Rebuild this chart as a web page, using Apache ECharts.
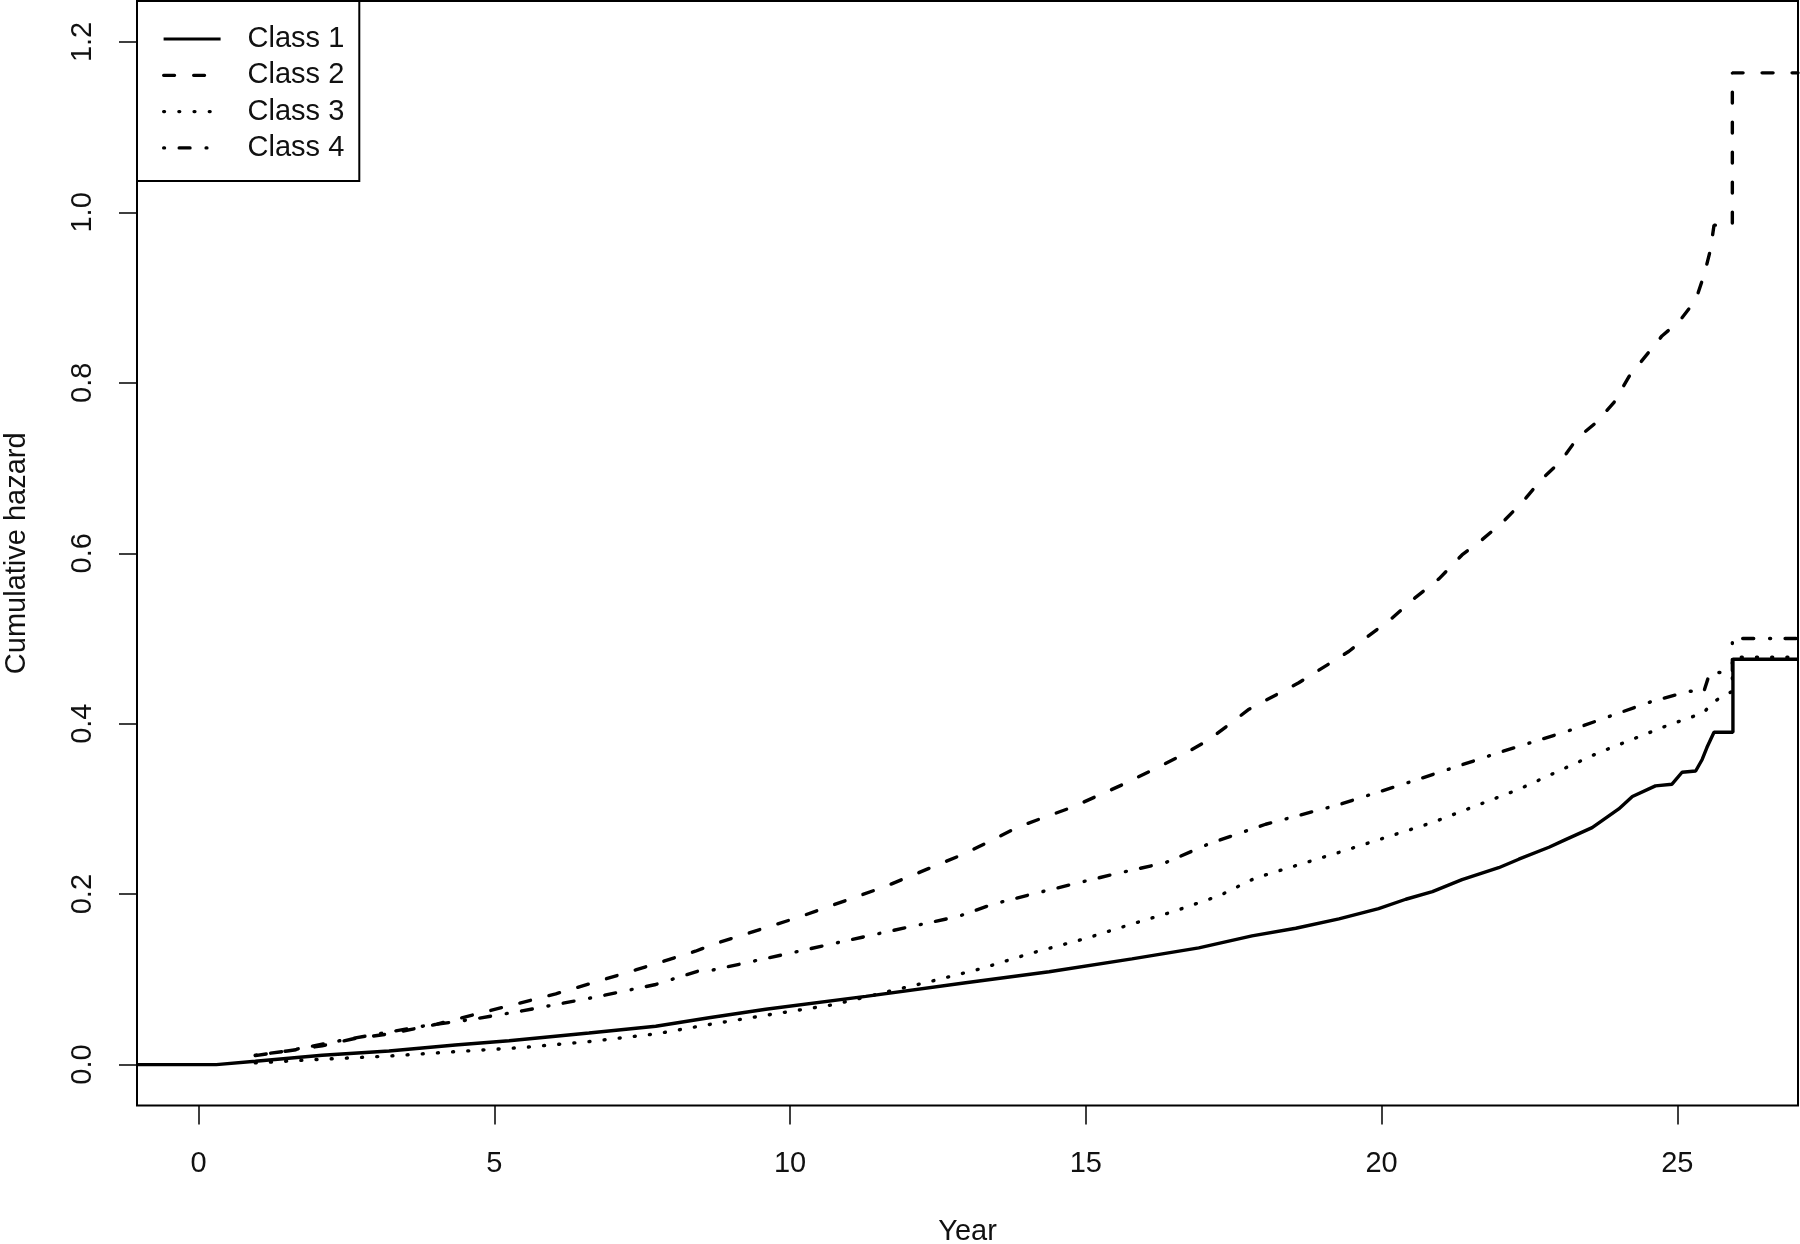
<!DOCTYPE html>
<html>
<head>
<meta charset="utf-8">
<script src="https://cdn.jsdelivr.net/npm/echarts@6/dist/echarts.min.js"></script>
<style>
html,body{margin:0;padding:0;background:#fff;}
#chart{width:1800px;height:1244px;}
</style>
</head>
<body>
<div id="chart"></div>
<script>
// ---- data ----
const seriesNames = ['Class 1', 'Class 2', 'Class 3', 'Class 4'];
const xTicks = [0, 5, 10, 15, 20, 25];
const yTicks = [0, 0.2, 0.4, 0.6, 0.8, 1.0, 1.2];
const xRange = [-1.04, 27.04];
const yRange = [-0.048, 1.248];

const class1Years = [-1.04, 0.3, 0.96, 2.09, 3.22, 4.34, 5.25, 6.6, 7.73, 8.63, 9.59, 11.28, 12.97, 14.38, 15.78, 16.91, 17.81, 18.55, 19.28, 19.95, 20.41, 20.86, 21.36, 21.98, 22.32, 22.83, 23.11, 23.56, 24.01, 24.24, 24.63, 24.91, 25.08, 25.31, 25.42, 25.5, 25.62, 25.94, 25.94, 27.04];
const class1Hazard = [0, 0, 0.004, 0.011, 0.016, 0.023, 0.028, 0.037, 0.045, 0.055, 0.065, 0.080, 0.096, 0.109, 0.124, 0.137, 0.151, 0.160, 0.171, 0.183, 0.194, 0.203, 0.217, 0.231, 0.241, 0.255, 0.264, 0.278, 0.300, 0.3145, 0.327, 0.329, 0.343, 0.3445, 0.358, 0.372, 0.390, 0.390, 0.4756, 0.4756];

const class2Years = [0.96, 1.5, 2.09, 2.6, 3.22, 4.0, 4.91, 6.04, 7.39, 8.4, 8.74, 10.15, 11.61, 12.97, 13.86, 14.77, 15.67, 16.57, 17.08, 17.76, 18.6, 19.45, 19.78, 20.18, 20.57, 20.97, 21.36, 21.7, 22.04, 22.38, 22.71, 23.03, 23.31, 23.62, 23.93, 24.18, 24.46, 24.74, 25.03, 25.31, 25.45, 25.56, 25.62, 25.93, 25.93, 27.04];
const class2Hazard = [0.0105, 0.016, 0.022, 0.030, 0.036, 0.047, 0.063, 0.083, 0.111, 0.133, 0.142, 0.173, 0.209, 0.248, 0.279, 0.302, 0.330, 0.361, 0.381, 0.417, 0.448, 0.485, 0.503, 0.524, 0.548, 0.570, 0.598, 0.616, 0.636, 0.660, 0.687, 0.708, 0.735, 0.753, 0.777, 0.807, 0.831, 0.855, 0.872, 0.897, 0.926, 0.956, 0.985, 0.985, 1.1637, 1.1637];

const class3Years = [0.96, 2.0, 3.22, 4.3, 5.47, 6.6, 7.73, 8.63, 9.6, 10.71, 11.5, 12.4, 13.2, 14.09, 15.0, 15.78, 16.5, 17.25, 17.87, 19.28, 20.86, 22.32, 23.67, 24.8, 25.45, 25.59, 25.93, 25.93, 27.04];
const class3Hazard = [0.002, 0.006, 0.010, 0.015, 0.020, 0.027, 0.036, 0.047, 0.058, 0.070, 0.083, 0.098, 0.112, 0.131, 0.148, 0.165, 0.180, 0.198, 0.219, 0.249, 0.284, 0.323, 0.366, 0.397, 0.413, 0.425, 0.438, 0.478, 0.478];

const class4Years = [0.96, 1.5, 2.54, 3.78, 4.62, 5.47, 6.77, 7.73, 8.46, 8.63, 10.15, 11.45, 12.85, 13.42, 14.09, 15.45, 16.35, 17.08, 18.04, 19.28, 20.63, 21.98, 23.22, 24.52, 25.19, 25.45, 25.55, 25.93, 25.93, 27.04];
const class4Hazard = [0.011, 0.016, 0.030, 0.045, 0.053, 0.063, 0.080, 0.094, 0.110, 0.110, 0.133, 0.153, 0.174, 0.188, 0.200, 0.223, 0.237, 0.259, 0.282, 0.305, 0.335, 0.366, 0.393, 0.425, 0.438, 0.438, 0.460, 0.460, 0.500, 0.500];

// ---- styling ----
const FONT = '"Liberation Sans", Arial, sans-serif';
const TXT = '#111';
const dashStyles = ['solid', [11, 19], [1, 14.2], [1, 14.5, 11, 15.9]];

const allYears = [class1Years, class2Years, class3Years, class4Years];
const allHazard = [class1Hazard, class2Hazard, class3Hazard, class4Hazard];

function zip(xs, ys) { return xs.map((x, i) => [x, ys[i]]); }

const chart = echarts.init(document.getElementById('chart'), null, {renderer: 'canvas'});
chart.setOption({
  animation: false,
  backgroundColor: '#fff',
  grid: {
    left: 137, right: 2, top: 1, bottom: 138.5,
    outerBoundsMode: 'none',
    containLabel: false,
    show: true, borderColor: '#000', borderWidth: 2, backgroundColor: 'transparent'
  },
  legend: {
    orient: 'vertical',
    left: 137, top: 1,
    padding: [23, 15, 18, 25],
    itemGap: 6.3,
    itemWidth: 57,
    itemHeight: 14,
    borderColor: '#000',
    borderWidth: 2,
    backgroundColor: '#fff',
    selectedMode: false,
    itemStyle: {opacity: 0},
    lineStyle: {width: 3.2},
    textStyle: {fontSize: 29, fontFamily: FONT, color: TXT, lineHeight: 30, padding: [0, 0, 0, 22]},
    data: seriesNames
  },
  xAxis: {
    type: 'value', min: xRange[0], max: xRange[1],
    axisLine: {show: false, onZero: false},
    splitLine: {show: false},
    axisTick: {show: true, length: 19, lineStyle: {color: '#000', width: 1.5}, customValues: xTicks},
    axisLabel: {customValues: xTicks, fontSize: 29, fontFamily: FONT, color: TXT, margin: 44},
    name: 'Year', nameLocation: 'middle', nameGap: 112,
    nameTextStyle: {fontSize: 29, fontFamily: FONT, color: TXT}
  },
  yAxis: {
    type: 'value', min: yRange[0], max: yRange[1],
    axisLine: {show: false, onZero: false},
    splitLine: {show: false},
    axisTick: {show: true, length: 18, lineStyle: {color: '#000', width: 1.5}, customValues: yTicks},
    axisLabel: {customValues: yTicks, rotate: 90, fontSize: 29, fontFamily: FONT, color: TXT, margin: 40,
      formatter: v => Number(v).toFixed(1)},
    name: 'Cumulative hazard', nameLocation: 'middle', nameGap: 106, nameRotate: 90,
    nameTextStyle: {fontSize: 29, fontFamily: FONT, color: TXT}
  },
  series: seriesNames.map((name, i) => ({
    name: name,
    type: 'line',
    symbol: 'none',
    showSymbol: false,
    clip: true,
    lineStyle: {color: '#000', width: 3.4, type: dashStyles[i], cap: i === 0 ? 'butt' : 'round'},
    itemStyle: {color: '#000'},
    data: zip(allYears[i], allHazard[i])
  }))
});
</script>
</body>
</html>
